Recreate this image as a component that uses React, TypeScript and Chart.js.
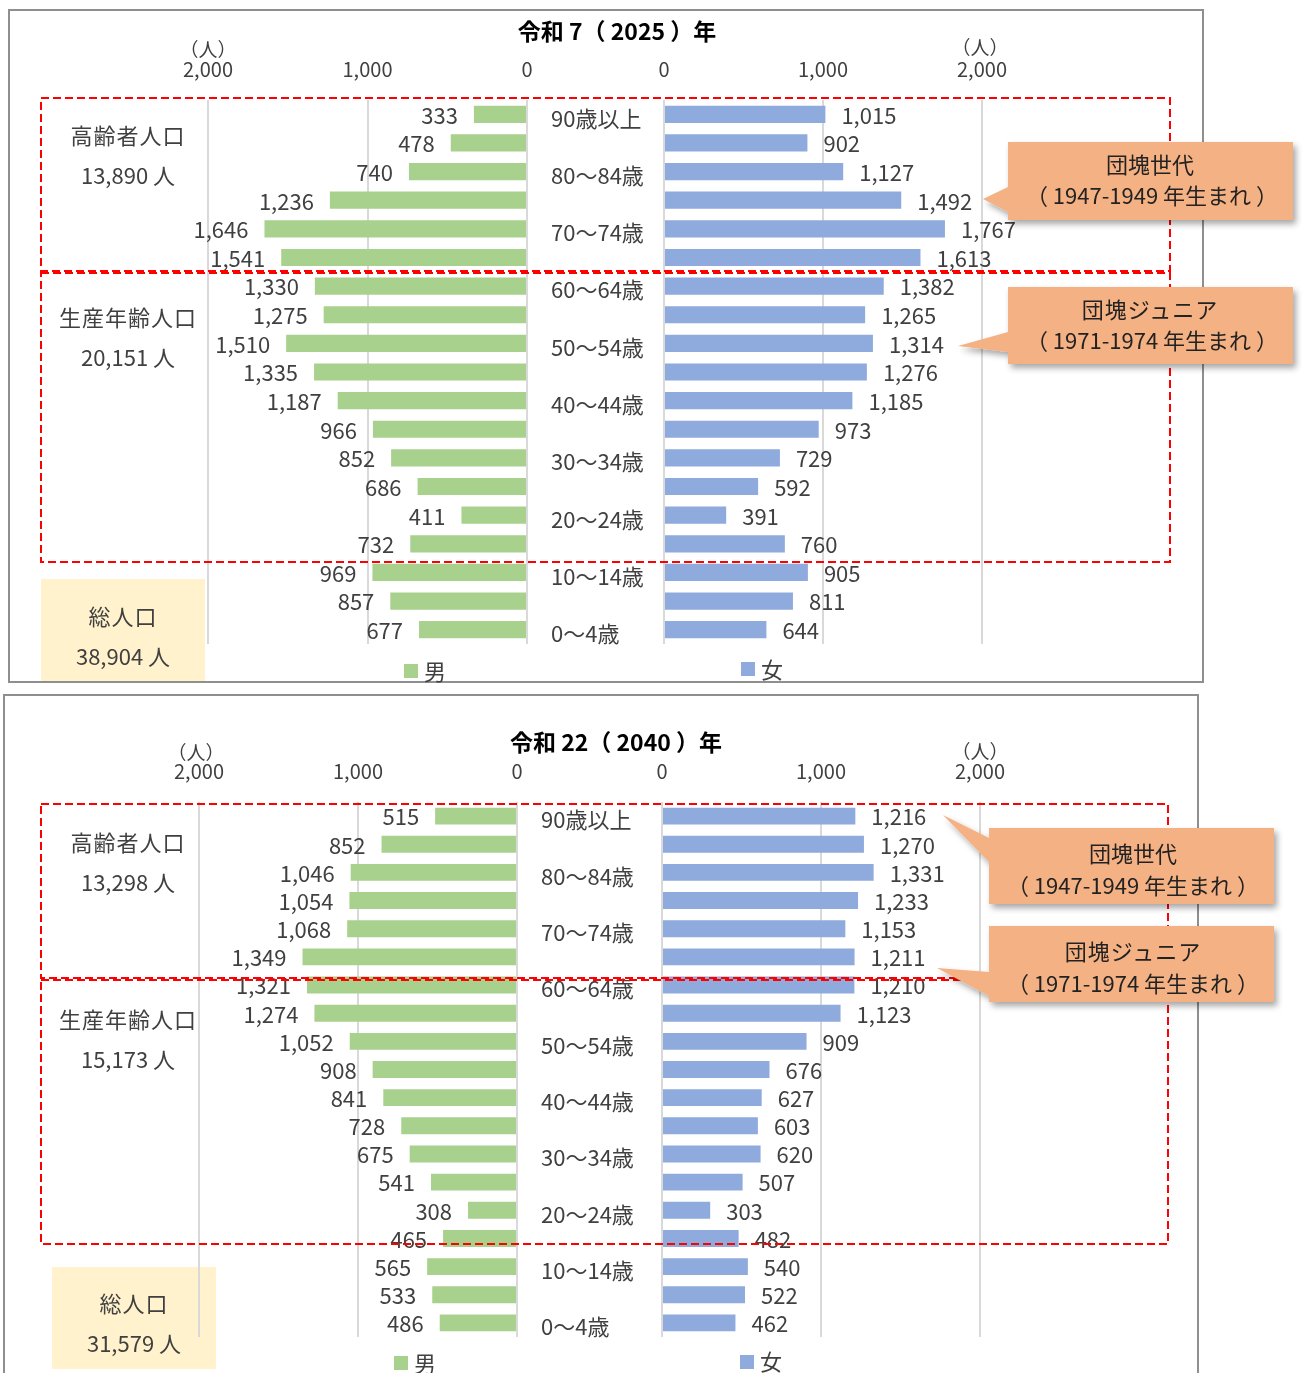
import React, { useEffect, useRef } from "react";
import { Chart, registerables } from "chart.js";

Chart.register(...registerables);

const FONT = "'Noto Sans CJK JP', 'Noto Sans', sans-serif";
Chart.defaults.font.family = FONT;

// ---------- data ----------
const ageGroups = [
  "90歳以上", "85～89歳", "80～84歳", "75～79歳", "70～74歳", "65～69歳",
  "60～64歳", "55～59歳", "50～54歳", "45～49歳", "40～44歳", "35～39歳",
  "30～34歳", "25～29歳", "20～24歳", "15～19歳", "10～14歳", "5～9歳", "0～4歳",
];

const male2025 = [333, 478, 740, 1236, 1646, 1541, 1330, 1275, 1510, 1335, 1187, 966, 852, 686, 411, 732, 969, 857, 677];
const female2025 = [1015, 902, 1127, 1492, 1767, 1613, 1382, 1265, 1314, 1276, 1185, 973, 729, 592, 391, 760, 905, 811, 644];

const male2040 = [515, 852, 1046, 1054, 1068, 1349, 1321, 1274, 1052, 908, 841, 728, 675, 541, 308, 465, 565, 533, 486];
const female2040 = [1216, 1270, 1331, 1233, 1153, 1211, 1210, 1123, 909, 676, 627, 603, 620, 507, 303, 482, 540, 522, 462];

const axisMin = 0;
const axisMax = 2000;
const axisStep = 1000;

const MALE_COLOR = "#A9D18E";
const FEMALE_COLOR = "#8FAADC";
const TEXT = "#404040";

const fmt = (v: number) => Number(v).toLocaleString("en-US");

const valueLabels = (side: "left" | "right") => ({
  id: "valueLabels",
  afterDatasetsDraw(chart: any) {
    const ctx = chart.ctx;
    const meta = chart.getDatasetMeta(0);
    const data = chart.data.datasets[0].data as number[];
    ctx.save();
    ctx.font = `22px ${FONT}`;
    ctx.fillStyle = TEXT;
    ctx.textBaseline = "middle";
    ctx.textAlign = side === "left" ? "right" : "left";
    meta.data.forEach((bar: any, i: number) => {
      const x = side === "left" ? bar.x - 16 : bar.x + 16;
      ctx.fillText(fmt(data[i]), x, bar.y + 1);
    });
    ctx.restore();
  },
});

type PanelGeom = {
  chartTop: number;
  chartBottom: number;
  male2000: number;
  male0: number;
  ageLeft: number;
  female0: number;
  female2000: number;
};

const AXIS_H = 43;
const PAD_T = 3;
const PAD_B = 16;

function Pyramid({ male, female, g }: { male: number[]; female: number[]; g: PanelGeom }) {
  const mRef = useRef<HTMLCanvasElement>(null);
  const fRef = useRef<HTMLCanvasElement>(null);

  const top = g.chartTop - AXIS_H - PAD_T;
  const height = g.chartBottom + PAD_B - top;
  const mPadL = 60, mPadR = 30;
  const mLeft = g.male2000 - mPadL;
  const mWidth = g.male0 + mPadR - mLeft;
  const fPadL = 2, fPadR = 60;
  const fLeft = g.ageLeft - fPadL;
  const fWidth = g.female2000 + fPadR - fLeft;
  const yAxisW = g.female0 - g.ageLeft;

  useEffect(() => {
    const xScale = (reverse: boolean) => ({
      position: "top" as const,
      reverse,
      min: axisMin,
      max: axisMax,
      ticks: {
        stepSize: axisStep,
        padding: 19,
        color: TEXT,
        font: { size: 20, family: FONT },
        callback: (v: any) => fmt(v),
      },
      grid: { color: "#d9d9d9", lineWidth: 2, drawTicks: false },
      border: { display: false },
      afterFit: (s: any) => {
        s.height = AXIS_H;
      },
    });

    const mc = new Chart(mRef.current!, {
      type: "bar",
      data: {
        labels: ageGroups,
        datasets: [
          {
            label: "男",
            data: male,
            backgroundColor: MALE_COLOR,
            barPercentage: 0.6,
            categoryPercentage: 1,
          },
        ],
      },
      options: {
        indexAxis: "y",
        animation: false,
        responsive: false,
        maintainAspectRatio: false,
        layout: { padding: { left: mPadL, right: mPadR, top: PAD_T, bottom: PAD_B } },
        plugins: { legend: { display: false }, tooltip: { enabled: false }, title: { display: false } },
        scales: {
          x: xScale(true) as any,
          y: { display: false },
        },
      },
      plugins: [valueLabels("left")],
    });

    const fc = new Chart(fRef.current!, {
      type: "bar",
      data: {
        labels: ageGroups,
        datasets: [
          {
            label: "女",
            data: female,
            backgroundColor: FEMALE_COLOR,
            barPercentage: 0.6,
            categoryPercentage: 1,
          },
        ],
      },
      options: {
        indexAxis: "y",
        animation: false,
        responsive: false,
        maintainAspectRatio: false,
        layout: { padding: { left: fPadL, right: fPadR, top: PAD_T, bottom: PAD_B } },
        plugins: { legend: { display: false }, tooltip: { enabled: false }, title: { display: false } },
        scales: {
          x: xScale(false) as any,
          y: {
            position: "left",
            grid: { display: false },
            border: { display: false },
            ticks: {
              autoSkip: false,
              crossAlign: "far",
              padding: 0,
              labelOffset: 4,
              color: TEXT,
              font: { size: 22, family: FONT },
              callback: (_v: any, i: number) => (i % 2 === 0 ? ageGroups[i] : ""),
            },
            afterFit: (s: any) => {
              s.width = yAxisW;
            },
          } as any,
        },
      },
      plugins: [valueLabels("right")],
    });

    return () => {
      mc.destroy();
      fc.destroy();
    };
  }, []);

  return (
    <>
      <canvas
        ref={mRef}
        width={mWidth}
        height={height}
        style={{ position: "absolute", left: mLeft, top, width: mWidth, height, zIndex: 2 }}
      />
      <canvas
        ref={fRef}
        width={fWidth}
        height={height}
        style={{ position: "absolute", left: fLeft, top, width: fWidth, height, zIndex: 2 }}
      />
    </>
  );
}

function T({
  x,
  y,
  s = 22,
  bold = false,
  color = TEXT,
  ls = 0,
  children,
}: {
  x: number;
  y: number;
  s?: number;
  bold?: boolean;
  color?: string;
  ls?: number;
  children: React.ReactNode;
}) {
  return (
    <div
      style={{
        position: "absolute",
        left: x - 200,
        width: 400,
        top: y - s * 0.7,
        height: s * 1.4,
        lineHeight: `${s * 1.4}px`,
        fontSize: s,
        fontWeight: bold ? 700 : 400,
        textAlign: "center",
        color,
        fontFamily: FONT,
        letterSpacing: ls,
        whiteSpace: "pre",
        zIndex: 5,
      }}
    >
      {children}
    </div>
  );
}

function Box({ x, y, w, h, color, z = 1 }: { x: number; y: number; w: number; h: number; color: string; z?: number }) {
  return <div style={{ position: "absolute", left: x, top: y, width: w, height: h, background: color, zIndex: z }} />;
}

const topGeom: PanelGeom = {
  chartTop: 100,
  chartBottom: 644,
  male2000: 208,
  male0: 527,
  ageLeft: 551,
  female0: 664,
  female2000: 982,
};

const bottomGeom: PanelGeom = {
  chartTop: 802,
  chartBottom: 1337,
  male2000: 199,
  male0: 517,
  ageLeft: 541,
  female0: 662,
  female2000: 980,
};

export default function App() {
  return (
    <div
      style={{
        position: "absolute",
        left: 0,
        top: 0,
        width: 1304,
        height: 1373,
        overflow: "hidden",
        background: "#fff",
        fontFamily: FONT,
      }}
    >
      {/* panel frames */}
      <div
        style={{
          position: "absolute",
          left: 8,
          top: 9,
          width: 1196,
          height: 674,
          border: "2px solid #8f8f8f",
          boxSizing: "border-box",
          zIndex: 0,
        }}
      />
      <div
        style={{
          position: "absolute",
          left: 3,
          top: 694,
          width: 1196,
          height: 720,
          border: "2px solid #8f8f8f",
          boxSizing: "border-box",
          zIndex: 0,
        }}
      />

      {/* total population boxes */}
      <Box x={41} y={579} w={164} h={102} color="#FFF2CC" />
      <Box x={52} y={1267} w={164} h={102} color="#FFF2CC" />

      <Pyramid male={male2025} female={female2025} g={topGeom} />
      <Pyramid male={male2040} female={female2040} g={bottomGeom} />

      {/* overlay shapes */}
      <svg
        width={1304}
        height={1373}
        style={{ position: "absolute", left: 0, top: 0, zIndex: 3, pointerEvents: "none" }}
      >
        <defs>
          <filter id="sh" x="-10%" y="-20%" width="130%" height="150%">
            <feDropShadow dx="3" dy="4" stdDeviation="3" floodColor="#000" floodOpacity="0.35" />
          </filter>
        </defs>
        <g fill="none" stroke="#FF0000" strokeWidth={2} strokeDasharray="8 4">
          <rect x={41} y={98} width={1129} height={173} />
          <rect x={41} y={273} width={1129} height={289} />
          <rect x={41} y={804} width={1127} height={174} />
          <rect x={41} y={980} width={1127} height={264} />
        </g>
        <g fill="#F4B183" filter="url(#sh)">
          <path d="M1008,142 H1293 V220 H1008 V212 L983,199 L1008,187 Z" />
          <path d="M1008,287 H1293 V364 H1008 V352 L958,346 L1008,332 Z" />
          <path d="M989,828 H1274 V904 H989 V862 L943,815 L989,838 Z" />
          <path d="M989,926 H1274 V1002 H989 V996 L937,968 L989,972 Z" />
        </g>
        <rect x={404} y={664} width={14} height={14} fill={MALE_COLOR} />
        <rect x={741} y={662} width={14} height={14} fill={FEMALE_COLOR} />
        <rect x={394} y={1356} width={14} height={14} fill={MALE_COLOR} />
        <rect x={740} y={1355} width={14} height={14} fill={FEMALE_COLOR} />
      </svg>

      {/* ---- top panel texts ---- */}
      <T x={617} y={30} s={23} bold color="#000">令和 7（ 2025 ）年</T>
      <T x={208} y={49} s={19}>（人）</T>
      <T x={980} y={47} s={19}>（人）</T>
      <T x={128} y={134} ls={1}>高齢者人口</T>
      <T x={128} y={174}>13,890 人</T>
      <T x={128} y={316} ls={1}>生産年齢人口</T>
      <T x={128} y={356}>20,151 人</T>
      <T x={123} y={615} ls={1}>総人口</T>
      <T x={123} y={655}>38,904 人</T>
      <T x={1150} y={163} color="#222">団塊世代</T>
      <T x={1152} y={194} color="#222">（ 1947-1949 年生まれ ）</T>
      <T x={1150} y={308} color="#222" ls={1}>団塊ジュニア</T>
      <T x={1152} y={339} color="#222">（ 1971-1974 年生まれ ）</T>
      <T x={435} y={670}>男</T>
      <T x={772} y={668}>女</T>

      {/* ---- bottom panel texts ---- */}
      <T x={616} y={741} s={23} bold color="#000">令和 22（ 2040 ）年</T>
      <T x={196} y={752} s={19}>（人）</T>
      <T x={980} y={751} s={19}>（人）</T>
      <T x={128} y={841} ls={1}>高齢者人口</T>
      <T x={128} y={881}>13,298 人</T>
      <T x={128} y={1018} ls={1}>生産年齢人口</T>
      <T x={128} y={1058}>15,173 人</T>
      <T x={134} y={1302} ls={1}>総人口</T>
      <T x={134} y={1342}>31,579 人</T>
      <T x={1133} y={852} color="#222">団塊世代</T>
      <T x={1133} y={884} color="#222">（ 1947-1949 年生まれ ）</T>
      <T x={1133} y={950} color="#222" ls={1}>団塊ジュニア</T>
      <T x={1133} y={982} color="#222">（ 1971-1974 年生まれ ）</T>
      <T x={425} y={1362}>男</T>
      <T x={771} y={1360}>女</T>
    </div>
  );
}
